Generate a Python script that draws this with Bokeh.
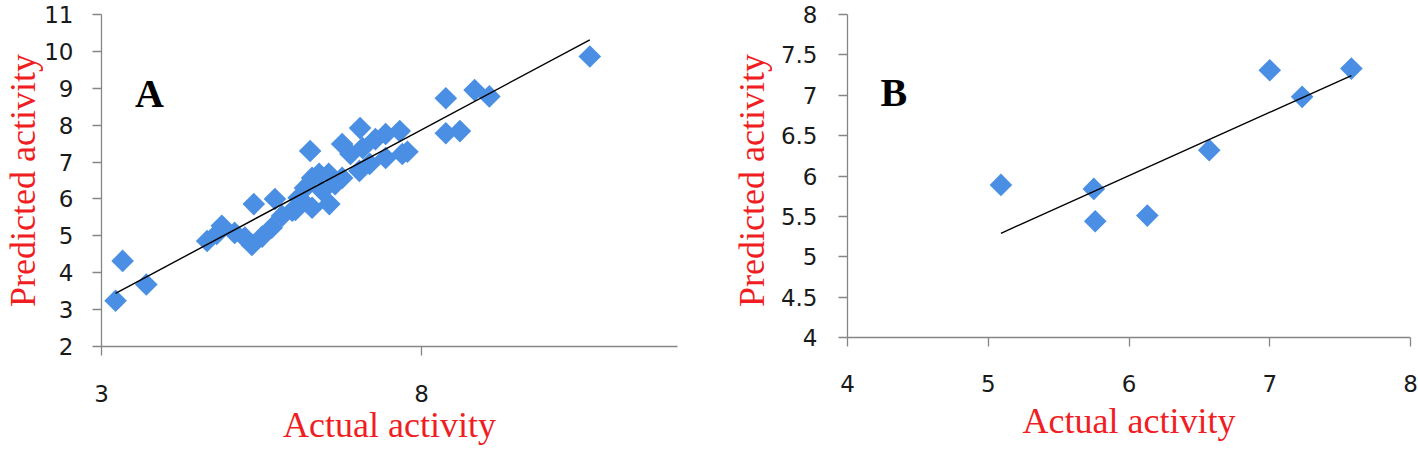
from bokeh.plotting import figure
from bokeh.layouts import row
from bokeh.models import Range1d, FixedTicker, Label, Span, CustomJSTickFormatter
from bokeh.embed import file_html
from bokeh.resources import INLINE

# ---------------- data ----------------
a_actual = [3.22, 3.33, 3.70, 4.65, 4.80, 4.88, 5.08, 5.24, 5.35, 5.38, 5.51, 5.66,
            5.71, 5.82, 5.98, 6.03, 6.08, 6.13, 6.18, 6.26, 6.29, 6.29, 6.40, 6.45,
            6.55, 6.56, 6.65, 6.76, 6.76, 6.89, 7.03, 7.04, 7.08, 7.19, 7.28, 7.44,
            7.44, 7.66, 7.70, 7.78, 8.38, 8.38, 8.60, 8.83, 9.06, 10.63]
a_pred = [3.24, 4.32, 3.68, 4.86, 5.05, 5.27, 5.08, 4.95, 4.75, 5.86, 4.98, 5.22,
          6.00, 5.54, 5.68, 5.70, 6.03, 5.95, 6.30, 7.30, 5.76, 6.57, 6.68, 6.22,
          6.68, 5.86, 6.40, 6.57, 7.49, 7.22, 6.76, 7.92, 7.38, 6.95, 7.62, 7.11,
          7.76, 7.84, 7.22, 7.28, 8.73, 7.78, 7.84, 8.95, 8.78, 9.86]
a_fit_slope, a_fit_intercept = 0.928, 0.45

b_actual = [5.09, 5.75, 5.76, 6.13, 6.57, 7.00, 7.23, 7.58]
b_pred = [5.89, 5.84, 5.44, 5.51, 6.32, 7.31, 6.98, 7.33]
b_fit_slope, b_fit_intercept = 0.784, 1.30

a_xticks = [3, 8]
a_yticks = [2, 3, 4, 5, 6, 7, 8, 9, 10, 11]
b_xticks = [4, 5, 6, 7, 8]
b_yticks = [4, 4.5, 5, 5.5, 6, 6.5, 7, 7.5, 8]

x_title = "Actual activity"
y_title = "Predicted activity"

MARKER = "#4a8fe4"
AXIS = "#868686"
RED = "#f01e23"
TICKFONT = "DejaVu Sans"
SERIF = "Liberation Serif"
H = 452
FRAME_TOP = 14
FRAME_BOTTOM = 346


def panel(xr, yr, xticks, yticks, xs, ys, slope, intercept, letter, lx, ly,
          width, mbl, mbr, ystand, xstand, ytitle_stand, xtitle_stand,
          raised_x_axis=False):
    p = figure(width=width, height=H, x_range=Range1d(*xr), y_range=Range1d(*yr),
               output_backend="svg", toolbar_location=None,
               min_border_left=mbl, min_border_right=mbr,
               min_border_top=FRAME_TOP, min_border_bottom=H - FRAME_BOTTOM)
    p.outline_line_color = None
    p.grid.visible = False
    p.background_fill_color = "white"
    p.border_fill_color = "white"

    fmt = CustomJSTickFormatter(code="return String(tick)")
    for ax, ticks, stand, tstand in ((p.xaxis[0], xticks, xstand, xtitle_stand),
                                     (p.yaxis[0], yticks, ystand, ytitle_stand)):
        ax.ticker = FixedTicker(ticks=ticks)
        ax.formatter = fmt
        ax.axis_line_color = AXIS
        ax.axis_line_width = 1.3
        ax.major_tick_line_color = AXIS
        ax.major_tick_line_width = 1.3
        ax.major_tick_in = 0
        ax.major_tick_out = 9
        ax.minor_tick_in = 0
        ax.minor_tick_out = 0
        ax.major_label_text_font = TICKFONT
        ax.major_label_text_font_size = "23px"
        ax.major_label_text_color = "#1a1a1a"
        ax.major_label_standoff = stand
        ax.axis_label_text_font = SERIF
        ax.axis_label_text_font_size = "36px"
        ax.axis_label_text_font_style = "normal"
        ax.axis_label_text_color = RED
        ax.axis_label_standoff = tstand
    p.xaxis.axis_label = x_title
    p.yaxis.axis_label = y_title
    p.yaxis.bounds = (min(yticks), max(yticks))
    if raised_x_axis:
        # axis line at the lowest y tick, tick marks hanging below it
        p.xaxis.axis_line_color = None
        p.xaxis.major_tick_in = 9
        p.xaxis.major_tick_out = 0
        p.add_layout(Span(location=min(yticks), dimension="width",
                          line_color=AXIS, line_width=1.3))

    p.scatter(xs, ys, marker="square", angle=0.785398, size=16,
              fill_color=MARKER, line_color=None)
    x0, x1 = min(xs), max(xs)
    p.line([x0, x1], [slope * x0 + intercept, slope * x1 + intercept],
           line_color="black", line_width=1.4)

    p.add_layout(Label(x=lx, y=ly, text=letter, text_font=SERIF,
                       text_font_size="40px", text_font_style="bold",
                       text_align="center", text_baseline="alphabetic",
                       text_color="black"))
    return p


pa = panel((3, 12), (2, 11), a_xticks, a_yticks, a_actual, a_pred,
           a_fit_slope, a_fit_intercept, "A", 3.75, 8.86,
           width=712, mbl=100, mbr=35,
           ystand=19, xstand=29, ytitle_stand=-2, xtitle_stand=0)
# panel B: its x axis sits 9 px above the shared frame bottom
b_ybottom = 4 - 9 / ((FRAME_BOTTOM - 9 - FRAME_TOP) / 4)
pb = panel((4, 8), (b_ybottom, 8), b_xticks, b_yticks, b_actual, b_pred,
           b_fit_slope, b_fit_intercept, "B", 4.33, 7.03,
           width=706, mbl=135, mbr=8,
           ystand=21, xstand=28, ytitle_stand=6, xtitle_stand=6,
           raised_x_axis=True)

layout = row(pa, pb, spacing=0)
open("out.html", "w").write(file_html(layout, INLINE))
